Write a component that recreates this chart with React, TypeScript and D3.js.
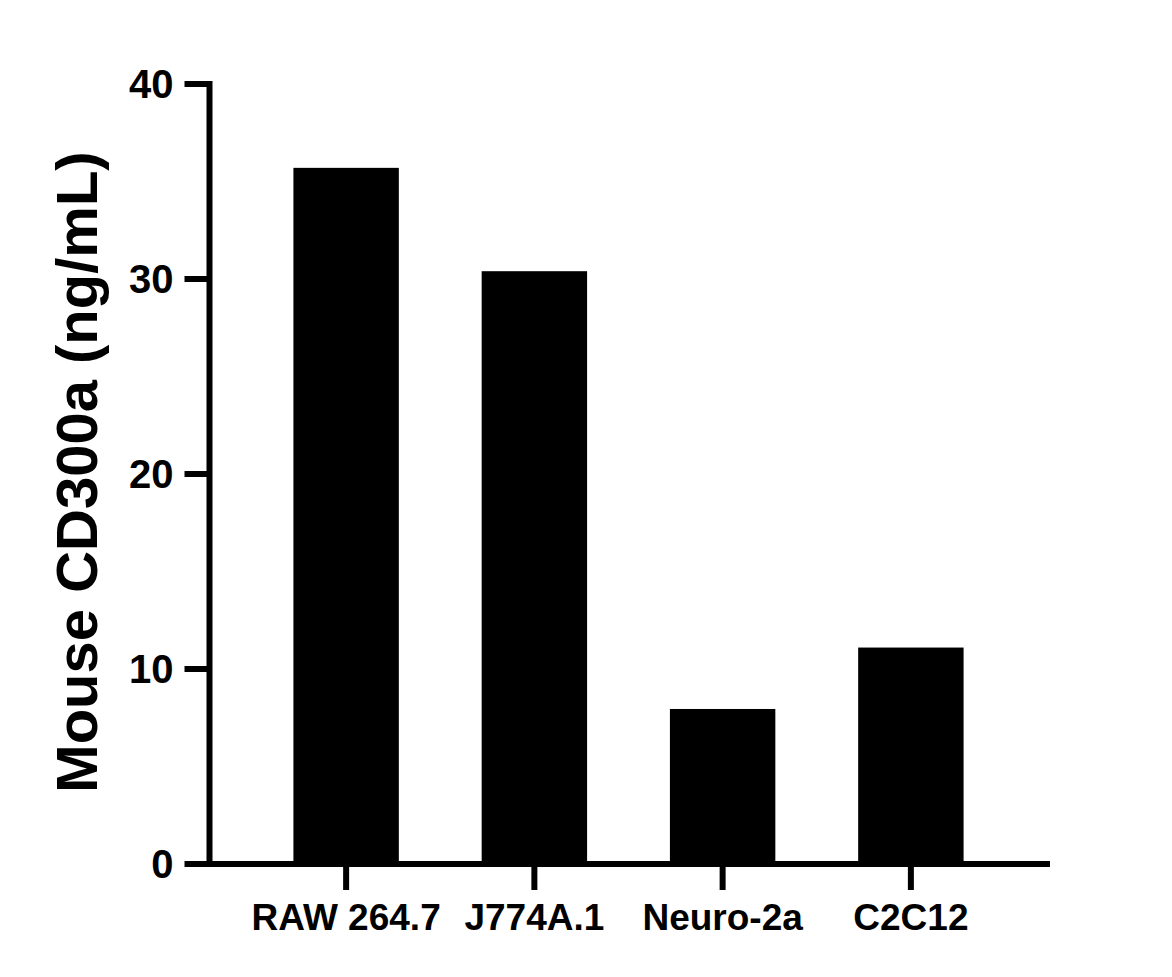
import { useRef, useEffect } from "react"
import * as d3 from "d3"

const cellLines = ["RAW 264.7", "J774A.1", "Neuro-2a", "C2C12"]
const cd300aValues = [35.7, 30.4, 7.95, 11.1]
const yTicks = [0, 10, 20, 30, 40]
const yTitle = "Mouse CD300a (ng/mL)"

export default function App() {
  const svgRef = useRef<SVGSVGElement>(null)

  useEffect(() => {
    if (!svgRef.current) return
    document.body.style.margin = "0"

    const svg = d3.select(svgRef.current)
    svg.selectAll("*").remove()

    const font = "'Liberation Sans', Arial, sans-serif"
    const axisX = 209.5
    const axisY = 864

    const y = d3.scaleLinear().domain([0, 40]).range([axisY, 84])
    const x = d3.scaleBand().domain(cellLines).range([252, 1005]).paddingInner(0.44).paddingOuter(0.22)

    // Bars
    svg
      .append("g")
      .selectAll("rect")
      .data(cellLines)
      .join("rect")
      .attr("x", (d) => x(d)!)
      .attr("y", (d, i) => y(cd300aValues[i]))
      .attr("width", x.bandwidth())
      .attr("height", (d, i) => axisY - y(cd300aValues[i]))
      .attr("fill", "#000")

    // Y axis
    const yAxis = svg.append("g").attr("transform", `translate(${axisX}, 0)`)
    yAxis
      .append("line")
      .attr("x1", 0)
      .attr("x2", 0)
      .attr("y1", y(40) - 3)
      .attr("y2", axisY + 3)
      .attr("stroke", "#000")
      .attr("stroke-width", 6)
    yAxis
      .selectAll("line.tick")
      .data(yTicks)
      .join("line")
      .attr("class", "tick")
      .attr("x1", -25)
      .attr("x2", 0)
      .attr("y1", (d) => y(d))
      .attr("y2", (d) => y(d))
      .attr("stroke", "#000")
      .attr("stroke-width", 6)
    yAxis
      .selectAll("text")
      .data(yTicks)
      .join("text")
      .attr("x", -36)
      .attr("y", (d) => y(d))
      .attr("dy", "0.36em")
      .attr("text-anchor", "end")
      .attr("font-family", font)
      .attr("font-weight", "bold")
      .attr("font-size", "40px")
      .text((d) => d)

    // X axis
    const xAxis = svg.append("g").attr("transform", `translate(0, ${axisY})`)
    xAxis
      .append("line")
      .attr("x1", axisX - 3)
      .attr("x2", 1050)
      .attr("y1", 0)
      .attr("y2", 0)
      .attr("stroke", "#000")
      .attr("stroke-width", 6)
    xAxis
      .selectAll("line.tick")
      .data(cellLines)
      .join("line")
      .attr("class", "tick")
      .attr("x1", (d) => x(d)! + x.bandwidth() / 2)
      .attr("x2", (d) => x(d)! + x.bandwidth() / 2)
      .attr("y1", 0)
      .attr("y2", 26)
      .attr("stroke", "#000")
      .attr("stroke-width", 6)
    xAxis
      .selectAll("text")
      .data(cellLines)
      .join("text")
      .attr("x", (d) => x(d)! + x.bandwidth() / 2)
      .attr("y", 66)
      .attr("text-anchor", "middle")
      .attr("font-family", font)
      .attr("font-weight", "bold")
      .attr("font-size", "37px")
      .text((d) => d)

    // Y title
    svg
      .append("text")
      .attr("transform", `translate(97, 472) rotate(-90)`)
      .attr("text-anchor", "middle")
      .attr("font-family", font)
      .attr("font-weight", "bold")
      .attr("font-size", "58px")
      .text(yTitle)
  }, [])

  return <svg ref={svgRef} width={1172} height={977} style={{ display: "block", background: "#fff" }} />
}
